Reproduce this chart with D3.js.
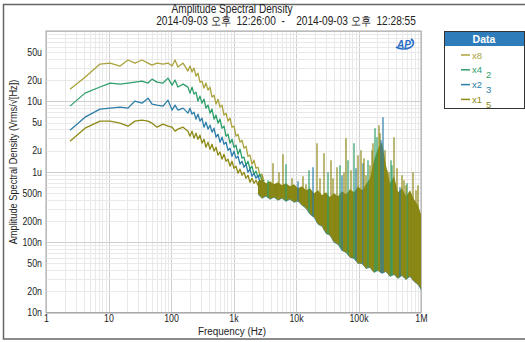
<!DOCTYPE html>
<html>
<head>
<meta charset="utf-8">
<script src="https://cdn.jsdelivr.net/npm/d3@7"></script>
<style>
  body { margin: 0; background: #fff; }
  svg text { font-family: 'Liberation Sans', Arial, sans-serif; }
</style>
</head>
<body>
<div id="chart"></div>
<script>
// frequencies (Hz) of the low-frequency part, shared by all four traces
const freqLo = [2.42, 4.21, 7.31, 10.6, 15.3, 20.5, 26.5, 34.4, 42.9, 49.7, 59.7, 74.5, 89.5, 104, 116, 129, 156,
  187, 201, 217, 233, 251, 270, 291, 313, 337, 363, 391, 421, 453, 488, 525, 565, 608, 655, 705, 759,
  817, 879, 946, 1019, 1097, 1180, 1271, 1368, 1472, 1585, 1706, 1837, 1977, 2128, 2291, 2466, 2655, 2858, 3076];

// amplitude spectral density (Vrms/sqrt(Hz))
const x8Lo = [1.49e-5, 2.21e-5, 3.39e-5, 3.50e-5, 3.18e-5, 3.87e-5, 3.50e-5, 3.87e-5, 3.50e-5, 3.28e-5, 3.50e-5, 3.39e-5,
  3.50e-5, 3.18e-5, 3.87e-5, 3.07e-5, 3.50e-5,
  2.696e-5, 3.176e-5, 2.609e-5, 2.974e-5, 2.288e-5, 2.525e-5, 1.879e-5, 1.942e-5, 1.544e-5, 1.818e-5,
  1.446e-5, 1.595e-5, 1.149e-5, 1.227e-5, 9.14e-6, 1.076e-5, 8.28e-6, 8.84e-6, 6.37e-6, 6.80e-6,
  5.24e-6, 5.77e-6, 4.30e-6, 4.44e-6, 3.20e-6, 3.42e-6, 2.63e-6, 2.81e-6, 2.16e-6, 2.31e-6,
  1.66e-6, 1.72e-6, 1.28e-6, 1.46e-6, 1.12e-6, 1.16e-6, 8.63e-7, 9.21e-7, 7.32e-7];
const x4Lo = [8.56e-6, 1.31e-5, 1.60e-5, 1.82e-5, 1.76e-5, 1.82e-5, 1.88e-5, 1.94e-5, 1.82e-5, 2.07e-5, 1.88e-5, 1.82e-5,
  2.14e-5, 1.70e-5, 2.01e-5, 1.60e-5, 1.76e-5,
  1.595e-5, 1.310e-5, 1.595e-5, 1.268e-5, 1.354e-5, 1.008e-5, 1.188e-5, 9.44e-6, 1.076e-5, 8.01e-6,
  8.84e-6, 6.80e-6, 7.76e-6, 5.59e-6, 6.37e-6, 4.90e-6, 5.59e-6, 4.16e-6, 4.44e-6, 3.20e-6,
  3.42e-6, 2.55e-6, 2.90e-6, 2.23e-6, 2.38e-6, 1.77e-6, 2.09e-6, 1.56e-6, 1.61e-6, 1.24e-6,
  1.41e-6, 1.09e-6, 1.20e-6, 9.21e-7, 1.02e-6, 8.35e-7, 9.21e-7, 7.32e-7, 7.57e-7];
const x2Lo = [3.90e-6, 5.97e-6, 7.76e-6, 8.01e-6, 8.28e-6, 8.01e-6, 1.01e-5, 9.44e-6, 1.11e-5, 9.14e-6, 8.84e-6, 8.56e-6,
  1.04e-5, 7.51e-6, 8.84e-6, 7.51e-6, 8.01e-6,
  6.80e-6, 8.01e-6, 6.58e-6, 7.03e-6, 5.59e-6, 6.58e-6, 5.24e-6, 5.77e-6, 4.30e-6, 5.07e-6,
  4.03e-6, 4.59e-6, 3.65e-6, 4.16e-6, 3.10e-6, 3.42e-6, 2.63e-6, 3.10e-6, 2.46e-6, 2.63e-6,
  2.02e-6, 2.16e-6, 1.66e-6, 1.96e-6, 1.56e-6, 1.66e-6, 1.28e-6, 1.41e-6, 1.16e-6, 1.28e-6,
  9.84e-7, 1.09e-6, 8.63e-7, 9.52e-7, 8.08e-7, 8.92e-7, 7.09e-7, 7.57e-7, 6.43e-7];
const x1Lo = [2.72e-6, 4.16e-6, 5.24e-6, 5.24e-6, 4.90e-6, 4.44e-6, 5.24e-6, 5.41e-6, 5.24e-6, 4.90e-6, 4.30e-6, 4.75e-6,
  4.44e-6, 4.30e-6, 3.77e-6, 4.03e-6, 4.30e-6,
  3.77e-6, 3.20e-6, 3.77e-6, 3.00e-6, 3.53e-6, 2.90e-6, 3.31e-6, 2.55e-6, 2.90e-6, 2.23e-6,
  2.63e-6, 2.09e-6, 2.46e-6, 1.96e-6, 2.23e-6, 1.72e-6, 1.90e-6, 1.51e-6, 1.77e-6, 1.41e-6,
  1.51e-6, 1.20e-6, 1.41e-6, 1.12e-6, 1.20e-6, 9.52e-7, 1.09e-6, 8.92e-7, 9.84e-7, 8.08e-7,
  8.92e-7, 7.09e-7, 8.08e-7, 6.86e-7, 7.57e-7, 6.43e-7, 7.09e-7, 6.02e-7, 6.43e-7];

// above ~2.5 kHz all traces sit on the same noise floor: min / max envelope
const tailFreq = [2466, 2858, 3311, 3837, 4446, 5152, 5970, 6918, 8017, 9290, 10765, 12474, 14454, 16749, 19409,
  22491, 26062, 30200, 34995, 40551, 46989, 54450, 63096, 73114, 84723, 98175, 113763, 131826, 152757, 177011,
  205116, 237684, 275423, 319154, 369828, 428549, 496592, 575440, 666807, 772681, 895365, 1e6];
const tailLow = [4.78e-7, 4.20e-7, 4.48e-7, 4.06e-7, 4.34e-7, 3.93e-7, 4.20e-7, 3.80e-7, 4.06e-7, 3.68e-7,
  3.80e-7, 3.34e-7, 3.02e-7, 2.48e-7, 2.25e-7, 1.79e-7, 1.68e-7, 1.33e-7, 1.25e-7, 9.92e-8,
  9.29e-8, 7.63e-8, 7.15e-8, 6.07e-8, 5.87e-8, 4.98e-8, 4.98e-8, 4.23e-8, 4.37e-8, 3.71e-8,
  3.96e-8, 3.59e-8, 3.83e-8, 3.25e-8, 3.47e-8, 3.05e-8, 3.36e-8, 2.95e-8, 3.25e-8, 2.76e-8, 2.50e-8, 2.13e-8];
const tailHigh = [7.32e-7, 7.82e-7, 6.86e-7, 7.32e-7, 6.64e-7, 7.09e-7, 6.43e-7, 6.86e-7, 6.22e-7, 6.64e-7,
  5.82e-7, 6.22e-7, 5.45e-7, 5.82e-7, 4.94e-7, 5.45e-7, 4.63e-7, 5.11e-7, 4.34e-7, 4.94e-7,
  4.48e-7, 5.28e-7, 4.78e-7, 5.63e-7, 5.11e-7, 6.22e-7, 5.45e-7, 6.64e-7, 8.08e-7, 1.46e-6,
  2.16e-6, 2.63e-6, 1.24e-6, 6.86e-7, 8.63e-7, 5.11e-7, 5.82e-7, 4.48e-7, 5.45e-7, 4.06e-7, 3.34e-7, 2.48e-7];

// spurs sticking out of the noise floor, and which trace shows on top
const spikeFreq = [4285, 6194, 6918, 14454, 18707, 21677, 28054, 32509, 39084, 45290, 54450, 63096, 67920, 75858, 84723,
  98175, 109648, 118032, 131826, 141906, 152757, 170608, 197697, 220800, 246604, 285759, 331131, 369828, 413047, 461318,
  534564, 597035, 666807, 744732, 895365,
  2858, 3565, 5346, 8630, 10765, 12942, 16144, 24210, 36308, 50582, 58614, 91201, 122462, 164437, 183654,
  212814, 229087, 265461, 307610, 343558, 496592, 575440, 831764];
const spikeTop = [1.32e-6, 1.77e-6, 1.28e-6, 6.64e-7, 1.16e-6, 2.55e-6, 1.83e-6, 9.84e-7, 8.08e-7, 1.16e-6, 8.92e-7, 3.00e-6,
  1.46e-6, 1.05e-6, 2.55e-6, 1.72e-6, 2.02e-6, 1.32e-6, 8.92e-7, 1.46e-6, 1.24e-6, 2.55e-6, 3.10e-6, 3.53e-6, 5.97e-6,
  1.05e-6, 1.46e-6, 3.10e-6, 1.12e-6, 6.02e-7, 7.57e-7, 6.86e-7, 4.94e-7, 9.84e-7, 6.43e-7,
  8.63e-7, 7.57e-7, 9.84e-7, 8.08e-7, 7.32e-7, 8.63e-7, 1.05e-6, 8.08e-7, 1.46e-6, 1.24e-6, 9.84e-7, 1.12e-6, 1.56e-6,
  2.02e-6, 4.16e-6, 4.59e-6, 2.81e-6, 2.02e-6, 9.84e-7, 1.24e-6, 8.92e-7, 6.43e-7, 5.45e-7];
const spikeSeries = [3, 3, 1, 3, 2, 3, 3, 1, 3, 3, 2, 3, 1, 3, 1, 3, 3, 2, 3, 1, 3, 3, 1, 3, 2, 3, 1, 3, 3, 2, 3, 1, 3, 3, 3,
  3, 1, 3, 3, 2, 3, 1, 3, 3, 1, 3, 2, 3, 3, 1, 3, 2, 3, 3, 1, 3, 3, 3];

const seriesNames = ["x8", "x4", "x2", "x1"];
const seriesSubs = ["", "2", "3", "5"];
const seriesColors = ["#aaa33c", "#2f9f6a", "#2c7ea8", "#8e8a16"];

const xTickVals = [1, 10, 100, 1e3, 1e4, 1e5, 1e6];
const xTickLabels = ["1", "10", "100", "1k", "10k", "100k", "1M"];
const yTickVals = [5e-5, 2e-5, 1e-5, 5e-6, 2e-6, 1e-6, 5e-7, 2e-7, 1e-7, 5e-8, 2e-8, 1e-8];
const yTickLabels = ["50u", "20u", "10u", "5u", "2u", "1u", "500n", "200n", "100n", "50n", "20n", "10n"];

const W = 525, H = 342;
const pLeft = 46, pRight = 421, pTop = 31, pBottom = 312.5;

const svg = d3.select("#chart").append("svg")
  .attr("width", W).attr("height", H);

// outer frame
svg.append("rect")
  .attr("x", 3.5).attr("y", 4.5).attr("width", 560).attr("height", 334.5)
  .attr("fill", "none").attr("stroke", "#666").attr("stroke-width", 1.5);

const x = d3.scaleLog().domain([1, 1e6]).range([pLeft, pRight]);
const y = d3.scaleLog().domain([1e-8, 1e-4]).range([pBottom, pTop]);

// grid
const grid = svg.append("g");
x.ticks().forEach(t => {
  const major = Math.abs(Math.log10(t) - Math.round(Math.log10(t))) < 1e-9;
  grid.append("line")
    .attr("x1", Math.round(x(t)) + 0.5).attr("x2", Math.round(x(t)) + 0.5)
    .attr("y1", pTop).attr("y2", pBottom)
    .attr("stroke", major ? "#cfcfcf" : "#e9e9e9");
});
y.ticks().forEach(t => {
  const major = Math.abs(Math.log10(t) - Math.round(Math.log10(t))) < 1e-9;
  grid.append("line")
    .attr("x1", pLeft).attr("x2", pRight)
    .attr("y1", Math.round(y(t)) + 0.5).attr("y2", Math.round(y(t)) + 0.5)
    .attr("stroke", major ? "#cfcfcf" : "#e9e9e9");
});

// axes (labels squeezed horizontally to get the narrow face of the original)
const xAxis = svg.append("g")
  .attr("transform", "translate(0," + pBottom + ")")
  .call(d3.axisBottom(x).tickValues(xTickVals).tickSize(0).tickPadding(2.5)
    .tickFormat((d, i) => xTickLabels[i]));
xAxis.select(".domain").remove();
xAxis.selectAll("text").attr("font-size", 10.5).attr("fill", "#222").attr("transform", "scale(0.84,1)");

const yAxis = svg.append("g")
  .attr("transform", "translate(" + (pLeft - 4) + ",0)")
  .call(d3.axisLeft(y).tickValues(yTickVals).tickSize(0).tickPadding(0)
    .tickFormat((d, i) => yTickLabels[i]));
yAxis.select(".domain").remove();
yAxis.selectAll("text").attr("font-size", 10.5).attr("fill", "#222").attr("transform", "scale(0.84,1)");

// plot border
svg.append("rect")
  .attr("x", pLeft).attr("y", pTop).attr("width", pRight - pLeft).attr("height", pBottom - pTop)
  .attr("fill", "none").attr("stroke", "#a8a8a8");

const plot = svg.append("g");

// low-frequency traces
const lowData = [x8Lo, x4Lo, x2Lo, x1Lo];
const line = d3.line().x(d => x(d[0])).y(d => y(d[1]));
lowData.forEach((vals, i) => {
  plot.append("path")
    .attr("d", line(freqLo.map((f, k) => [f, vals[k]])))
    .attr("fill", "none")
    .attr("stroke", seriesColors[i])
    .attr("stroke-width", 1.3)
    .attr("stroke-linejoin", "round");
});

// noise floor band
const tail = tailFreq.map((f, k) => ({ f: f, lo: tailLow[k], hi: tailHigh[k] }));
plot.append("path")
  .attr("d", d3.area().x(d => x(d.f)).y0(d => y(d.lo)).y1(d => y(d.hi))(tail))
  .attr("fill", "#878614");
plot.append("path")
  .attr("d", d3.line().x(d => x(d.f)).y(d => y(d.lo))(tail))
  .attr("fill", "none").attr("stroke", seriesColors[2]).attr("stroke-width", 0.8).attr("opacity", 0.8);

function bandAt(f, key) {
  const i = Math.min(tail.length - 1, Math.max(1, d3.bisectLeft(tailFreq, f)));
  const a = tail[i - 1], b = tail[i];
  const t = (Math.log(f) - Math.log(a.f)) / (Math.log(b.f) - Math.log(a.f));
  return Math.exp(Math.log(a[key]) + t * (Math.log(b[key]) - Math.log(a[key])));
}

spikeFreq.forEach((f, k) => {
  plot.append("line")
    .attr("x1", x(f)).attr("x2", x(f))
    .attr("y1", y(bandAt(f, "lo"))).attr("y2", y(spikeTop[k]))
    .attr("stroke", seriesColors[spikeSeries[k]])
    .attr("stroke-width", 1.2);
});

// titles
function label(txt, tx, ty, size, sx, anchor, rot) {
  return svg.append("text")
    .attr("transform", "translate(" + tx + "," + ty + ")" + (rot ? " rotate(" + rot + ")" : "") + " scale(" + sx + ",1)")
    .attr("text-anchor", anchor).attr("font-size", size).attr("fill", "#222")
    .style("white-space", "pre").text(txt);
}
label("Amplitude Spectral Density", 232, 12.5, 12, 0.84, "middle");
label("2014-09-03 오후  12:26:00  -    2014-09-03 오후  12:28:55", 286, 25, 12, 0.845, "middle");
label("Frequency (Hz)", 232, 335, 11, 0.9, "middle");
label("Amplitude Spectral Density (Vrms/\u221A[Hz])", 17, 162, 11, 0.84, "middle", -90);

// AP logo
const logo = svg.append("g").attr("transform", "translate(405,44)");
logo.append("path")
  .attr("d", "M-9,3 A10,6 0 1,0 6,-5")
  .attr("fill", "none").attr("stroke", "#2a6cc8").attr("stroke-width", 1.6);
logo.append("text").attr("x", -1).attr("y", 3.5).attr("text-anchor", "middle")
  .attr("font-size", 10).attr("font-weight", "bold").attr("font-style", "italic")
  .attr("fill", "#2a6cc8").text("AP");

// legend
const lg = svg.append("g");
lg.append("rect").attr("x", 444.5).attr("y", 31.5).attr("width", 80).attr("height", 77)
  .attr("fill", "#fff").attr("stroke", "#333");
lg.append("rect").attr("x", 445).attr("y", 32).attr("width", 79).attr("height", 14)
  .attr("fill", "#2e7cba");
lg.append("text").attr("x", 484).attr("y", 43).attr("text-anchor", "middle")
  .attr("font-size", 10.5).attr("font-weight", "bold").attr("fill", "#fff").text("Data");
seriesNames.forEach((name, i) => {
  const yy = 55 + i * 14.8;
  lg.append("line").attr("x1", 461).attr("x2", 470).attr("y1", yy).attr("y2", yy)
    .attr("stroke", seriesColors[i]).attr("stroke-width", 1.5);
  const t = lg.append("text").attr("x", 472).attr("y", yy + 3.5)
    .attr("font-size", 9.5).attr("fill", seriesColors[i]).text(name);
  if (seriesSubs[i]) {
    t.append("tspan").attr("dx", 4).attr("dy", 5).text(seriesSubs[i]);
  }
});
</script>
</body>
</html>
